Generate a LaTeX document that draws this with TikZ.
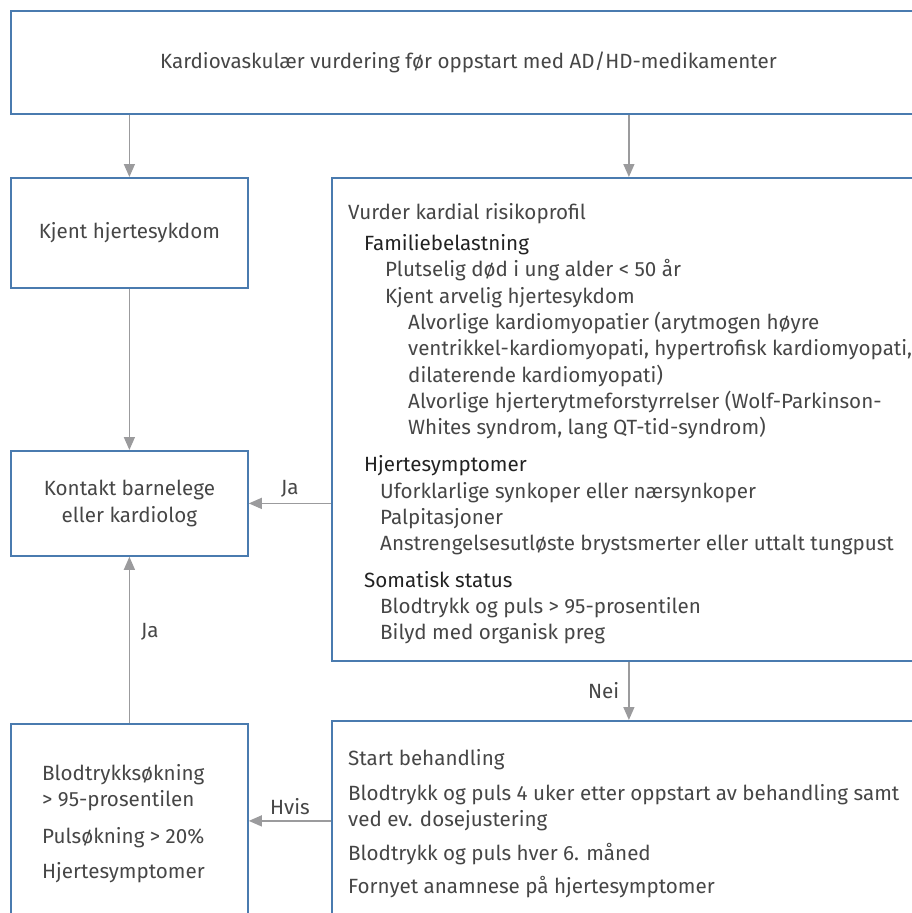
\documentclass[tikz,border=0pt]{standalone}
\usepackage{fontspec}
\setmainfont{Fira Sans}
\usetikzlibrary{arrows.meta, positioning}

\definecolor{boxblue}{HTML}{4A7BAF}
\definecolor{linegrey}{HTML}{9B9B9D}
\definecolor{textgrey}{HTML}{464646}
\definecolor{headgrey}{HTML}{222222}

\begin{document}
\begin{tikzpicture}[
    x=1pt, y=-1pt,
    font=\fontsize{20.6}{26.3}\selectfont,
    text=textgrey,
    box/.style={
        draw=boxblue,
        line width=1.8pt,
        rectangle,
        anchor=north west,
        inner sep=0pt,
        align=center
    },
    boxtext/.style={
        anchor=north west,
        inner sep=0pt,
        align=left
    },
    choice/.style={
        font=\fontsize{20.6}{22}\selectfont,
        inner sep=1pt
    },
    arrow/.style={
        -{Triangle[length=13pt, width=11pt]},
        draw=linegrey,
        line width=1.4pt
    }
]
\useasboundingbox (0,0) rectangle (912,913);

% Nodes
\node[box, minimum width=915, minimum height=103] (start) at (10,10)
    {Kardiovaskulær vurdering før oppstart med AD/HD-medikamenter};
\node[box, minimum width=237, minimum height=110] (known) at (10,177) {Kjent hjertesykdom};
\node[box, minimum width=594, minimum height=483] (risk) at (331,177) {};
\node[box, minimum width=237, minimum height=105] (contact) at (10,450)
    {Kontakt barnelege\\eller kardiolog};
\node[box, minimum width=237, minimum height=194] (alarm) at (10,723) {};
\node[box, minimum width=594, minimum height=220] (treat) at (331,720) {};

% Box texts
\node[boxtext] (risktext) at ([shift={(17,26)}]risk.north west) {%
    Vurder kardial risikoprofil\\[5pt]
    \hspace*{16pt}{\color{headgrey}Familiebelastning}\\
    \hspace*{37pt}Plutselig død i ung alder < 50 år\\
    \hspace*{37pt}Kjent arvelig hjertesykdom\\
    \hspace*{60pt}Alvorlige kardiomyopatier (arytmogen høyre\\
    \hspace*{60pt}ventrikkel-kardiomyopati, hypertrofisk kardiomyopati,\\
    \hspace*{60pt}dilaterende kardiomyopati)\\
    \hspace*{60pt}Alvorlige hjerterytmeforstyrrelser (Wolf-Parkinson-\\
    \hspace*{60pt}Whites syndrom, lang QT-tid-syndrom)\\[11pt]
    \hspace*{16pt}{\color{headgrey}Hjertesymptomer}\\
    \hspace*{32pt}Uforklarlige synkoper eller nærsynkoper\\
    \hspace*{32pt}Palpitasjoner\\
    \hspace*{32pt}Anstrengelsesutløste brystsmerter eller uttalt tungpust\\[10pt]
    \hspace*{16pt}{\color{headgrey}Somatisk status}\\
    \hspace*{32pt}Blodtrykk og puls > 95-prosentilen\\
    \hspace*{32pt}Bilyd med organisk preg};
\node[boxtext] (alarmtext) at ([shift={(32,41)}]alarm.north west) {%
    Blodtrykksøkning\\
    > 95-prosentilen\\[11pt]
    Pulsøkning > 20\%\\[8pt]
    Hjertesymptomer};
\node[boxtext] (treattext) at ([shift={(17,29)}]treat.north west) {%
    Start behandling\\[9pt]
    Blodtrykk og puls 4 uker etter oppstart av behandling samt\\
    ved ev. dosejustering\\[7pt]
    Blodtrykk og puls hver 6. måned\\[7pt]
    Fornyet anamnese på hjertesymptomer};

% Connections
\draw[arrow] (start.south -| known) -- (known.north);
\draw[arrow] (start.south -| risk) -- (risk.north);
\draw[arrow] (known) -- (contact);
\draw[arrow] (contact -| risk.west) -- (contact.east)
    node[choice, midway, above=4pt] {Ja};
\draw[arrow] (risk) -- (treat)
    node[choice, midway, left=8pt] {Nei};
\draw[arrow] (alarm -| treat.west) -- (alarm.east)
    node[choice, midway, above=4pt] {Hvis};
\draw[arrow] (alarm) -- (contact)
    node[choice, pos=0.55, right=10pt] {Ja};

\end{tikzpicture}
\end{document}
